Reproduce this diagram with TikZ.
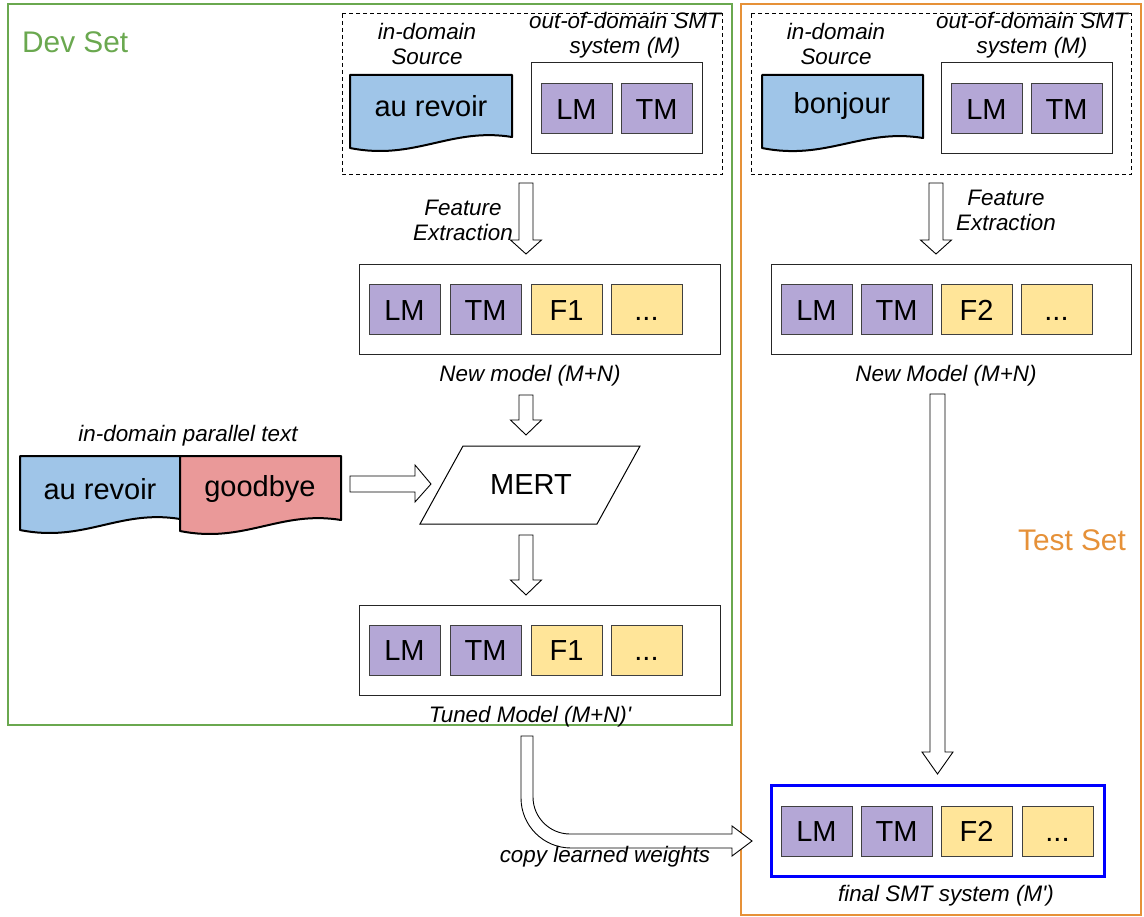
\documentclass[tikz,border=0pt]{standalone}
\usepackage{fontspec}
\setmainfont{Liberation Sans}[Ligatures=TeXOff]
\usetikzlibrary{calc}

\definecolor{devgreen}{HTML}{6AA84F}
\definecolor{testorange}{HTML}{E69138}
\definecolor{docblue}{HTML}{9FC5E8}
\definecolor{docred}{HTML}{EA9999}
\definecolor{lmpurple}{HTML}{B4A7D6}
\definecolor{fyellow}{HTML}{FFE599}
\definecolor{finalblue}{HTML}{0000FF}

\tikzset{
  bigtext/.style={font=\fontsize{29}{32}\selectfont},
  labeltext/.style={font=\fontsize{22.4}{25}\selectfont\itshape, align=center, inner sep=0},
  settitle/.style={font=\fontsize{29.8}{32}\selectfont, inner sep=0},
  feat/.style={draw=black!75, line width=1pt, minimum width=71pt, minimum height=50pt,
               inner sep=0, text height=21pt, text depth=0pt, bigtext},
  lmbox/.style={feat, fill=lmpurple},
  fbox/.style={feat, fill=fyellow},
  holder/.style={draw=black!85, line width=1pt, minimum width=#1, minimum height=90pt, inner sep=0},
  docshape/.style={draw=black, line width=2pt, line join=round},
  blk/.style={draw=black, line width=0.9pt, fill=white, line join=miter},
}

% hollow block arrow pointing down: centre x, top y, tip y, head length
\newcommand\blkdown[4]{%
  \draw[blk] (#1-7,#2) -- (#1+7,#2) -- (#1+7,#3-#4) -- (#1+15.5,#3-#4) -- (#1,#3)
    -- (#1-15.5,#3-#4) -- (#1-7,#3-#4) -- cycle;}

% wavy-bottomed document: left, top, right, bottom-left y, bottom-right y, fill
\newcommand\docpath[6]{%
  \draw[docshape, fill=#6] (#1,#2) -- (#3,#2) -- (#3,#5)
    .. controls ($(#3,#5)!0.38!(#1,#5)+(0,-10)$) and ($(#1,#4)!0.4!(#3,#4)+(0,13)$) .. (#1,#4) -- cycle;}

\begin{document}
\begin{tikzpicture}[x=1pt,y=-1pt]
\useasboundingbox (0,0) rectangle (1144,917);
\fill[white] (0,0) rectangle (1144,917);

% ---------- set frames ----------
\draw[devgreen, line width=2.2pt] (8,4) rectangle (732,725);
\draw[testorange, line width=2.2pt] (741,4) rectangle (1141,915);
\node[settitle, devgreen, anchor=west] (devtitle) at (22,42) {Dev Set};
\node[settitle, testorange, anchor=west] (testtitle) at (1018,540) {Test Set};

% ---------- dev: source + system ----------
\draw[line width=1pt, dash pattern=on 4pt off 3pt] (342,14) rectangle (722,175);
\node[labeltext] (srcL) at (427,44) {in-domain\\Source};
\node[labeltext] (sysL) at (625,35) {out-of-domain SMT\\system (M)};
\docpath{350}{75}{512}{148}{137}{docblue}
\node[bigtext] (srcdocL) at (431,106) {au revoir};
\node[holder=171pt, minimum height=91pt] (sysboxL) at (616.5,108.5) {};
\node[lmbox] (lmA) at (576.5,109) {LM};
\node[lmbox] (tmA) at (656.5,109) {TM};

% ---------- test: source + system ----------
\draw[line width=1pt, dash pattern=on 4pt off 3pt] (751,14) rectangle (1131,175);
\node[labeltext] (srcR) at (836,44) {in-domain\\Source};
\node[labeltext] (sysR) at (1032,35) {out-of-domain SMT\\system (M)};
\docpath{762}{75}{923}{148}{138}{docblue}
\node[bigtext] (srcdocR) at (842,106) {bonjour};
\node[holder=171pt, minimum height=91pt] (sysboxR) at (1026.5,108.5) {};
\node[lmbox] (lmB) at (986.5,109) {LM};
\node[lmbox] (tmB) at (1066.5,109) {TM};

% ---------- feature extraction ----------
\blkdown{526}{183}{254}{14}
\node[labeltext] (feL) at (463,220) {Feature\\Extraction};
\blkdown{936}{183}{254}{14}
\node[labeltext] (feR) at (1006,210) {Feature\\Extraction};

% ---------- new models ----------
\node[holder=361pt] (newL) at (539.5,309.5) {};
\node[lmbox] (lmC) at (404.5,310) {LM};
\node[lmbox] (tmC) at (485.5,310) {TM};
\node[fbox] (fC) at (566.5,310) {F1};
\node[fbox] (dC) at (646.5,310) {...};
\node[labeltext] (newLlab) at (530,376) {New model (M+N)};

\node[holder=360pt] (newR) at (951,309.5) {};
\node[lmbox] (lmD) at (816.5,310) {LM};
\node[lmbox] (tmD) at (896.5,310) {TM};
\node[fbox] (fD) at (976.5,310) {F2};
\node[fbox] (dD) at (1056.5,310) {...};
\node[labeltext] (newRlab) at (946,376) {New Model (M+N)};

% ---------- MERT ----------
\blkdown{526}{395}{435}{15}
\draw[line width=1pt, fill=white, line join=miter] (463,446) -- (640,446) -- (597,524) -- (420,524) -- cycle;
\node[bigtext] (mert) at (531,485) {MERT};

% parallel text documents
\node[labeltext] (parlab) at (188,436) {in-domain parallel text};
\docpath{20}{456}{180}{530}{519}{docblue}
\docpath{180}{456}{341}{531}{520}{docred}
\node[bigtext] (parsrc) at (100,489) {au revoir};
\node[bigtext] (partgt) at (260,489) {goodbye};
\draw[blk] (350,476) -- (415,476) -- (415,465) -- (431,484) -- (415,502) -- (415,492) -- (350,492) -- cycle;

% ---------- tuned model ----------
\blkdown{526}{535}{595}{15}
\node[holder=361pt] (tuned) at (539.5,650) {};
\node[lmbox] (lmE) at (404.5,650) {LM};
\node[lmbox] (tmE) at (485.5,650) {TM};
\node[fbox] (fE) at (566.5,650) {F1};
\node[fbox] (dE) at (646.5,650) {...};
\node[labeltext] (tunedlab) at (530,717) {Tuned Model (M+N)'};

% ---------- test path ----------
\draw[blk] (930,394) -- (945,394) -- (945,752) -- (953,752) -- (937.5,774) -- (922,752) -- (930,752) -- cycle;

% copy learned weights: bent block arrow (quarter-circle bend)
\draw[blk] (521,736) -- (533,736) -- (533,797)
  .. controls (533,817.4) and (549.6,834) .. (570,834)
  -- (732,834) -- (732,826) -- (752,841) -- (732,856) -- (732,848) -- (571,848)
  .. controls (543.4,848) and (521,825.6) .. (521,798)
  -- cycle;
\node[labeltext] (copylab) at (605,857) {copy learned weights};

% ---------- final system ----------
\node[draw=finalblue, line width=3pt, minimum width=333pt, minimum height=91pt, inner sep=0] (final) at (937.5,831) {};
\node[lmbox] (lmF) at (816.5,831) {LM};
\node[lmbox] (tmF) at (896.5,831) {TM};
\node[fbox] (fF) at (976.5,831) {F2};
\node[fbox] (dF) at (1057.5,831) {...};
\node[labeltext] (finallab) at (946,896) {final SMT system (M')};
\end{tikzpicture}
\end{document}
